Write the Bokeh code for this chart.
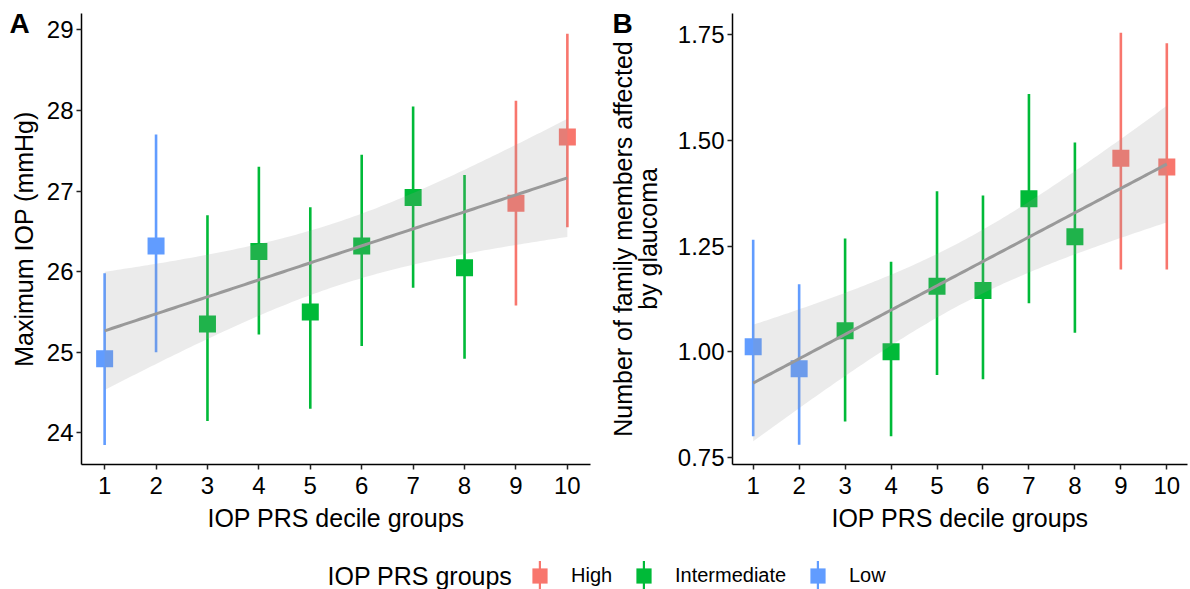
import numpy as np
from bokeh.plotting import figure
from bokeh.layouts import column, row
from bokeh.models import (Range1d, FixedTicker, PrintfTickFormatter, Label,
                          Legend, LegendItem)
from bokeh.core.properties import value
from bokeh.embed import file_html
from bokeh.resources import INLINE

# ---------------- data ----------------
deciles = [1, 2, 3, 4, 5, 6, 7, 8, 9, 10]
groups = ["Low", "Low", "Intermediate", "Intermediate", "Intermediate",
          "Intermediate", "Intermediate", "Intermediate", "High", "High"]
group_names = ["High", "Intermediate", "Low"]
group_colors = ["#F8766D", "#00BA38", "#619CFF"]

iop_mean = [24.92, 26.32, 25.35, 26.25, 25.50, 26.32, 26.92, 26.05, 26.85, 27.67]
iop_low = [23.85, 25.00, 24.15, 25.22, 24.30, 25.08, 25.80, 24.92, 25.58, 26.55]
iop_high = [25.98, 27.70, 26.70, 27.30, 26.80, 27.45, 28.05, 27.20, 28.12, 28.95]

fam_mean = [1.012, 0.960, 1.050, 1.000, 1.155, 1.145, 1.362, 1.272, 1.458, 1.437]
fam_low = [0.800, 0.780, 0.835, 0.800, 0.945, 0.935, 1.115, 1.045, 1.195, 1.195]
fam_high = [1.265, 1.160, 1.268, 1.213, 1.380, 1.370, 1.610, 1.495, 1.755, 1.730]

x_ticks = [1, 2, 3, 4, 5, 6, 7, 8, 9, 10]
iop_ticks = [24, 25, 26, 27, 28, 29]
fam_ticks = [0.75, 1.00, 1.25, 1.50, 1.75]

x_title = "IOP PRS decile groups"
ylab_a = "Maximum IOP (mmHg)"
ylab_b = ["Number of family members affected", "by glaucoma"]
legend_title = "IOP PRS groups"

FONT = "Liberation Sans"
cmap = dict(zip(group_names, group_colors))
pt_colors = [cmap[g] for g in groups]

T95 = 2.306004   # t(0.975, df=8)
T99 = 3.355387   # t(0.995, df=8)
H = 540
TOP, BOTTOM = 13, 76
FRAME_H = H - TOP - BOTTOM


def lm_band(x, y, t, n=120):
    x = np.asarray(x, float)
    y = np.asarray(y, float)
    b1, b0 = np.polyfit(x, y, 1)
    res = y - (b0 + b1 * x)
    s = np.sqrt((res ** 2).sum() / (len(x) - 2))
    xs = np.linspace(x.min(), x.max(), n)
    fit = b0 + b1 * xs
    se = s * np.sqrt(1.0 / len(x) + (xs - x.mean()) ** 2 / ((x - x.mean()) ** 2).sum())
    return xs, fit, fit - t * se, fit + t * se


def blank(width, height, **kw):
    f = figure(width=width, height=height, output_backend="svg", toolbar_location=None,
               x_range=Range1d(0, 1), y_range=Range1d(0, 1),
               x_axis_type=None, y_axis_type=None, **kw)
    f.outline_line_color = None
    f.grid.visible = False
    return f


def panel(mean, lo, hi, yr, yticks, width, left, right, t, fmt=None):
    p = figure(width=width, height=H, x_range=Range1d(0.55, 10.45),
               y_range=Range1d(*yr), output_backend="svg", toolbar_location=None,
               min_border_left=left, min_border_right=right,
               min_border_top=TOP, min_border_bottom=BOTTOM)
    p.outline_line_color = None
    p.grid.visible = False

    p.segment(x0=deciles, y0=lo, x1=deciles, y1=hi, line_color=pt_colors,
              line_width=2.6)
    p.scatter(x=deciles, y=mean, marker="square", size=17, fill_color=pt_colors,
              line_color=None)
    xs, fit, blo, bhi = lm_band(deciles, mean, t)
    p.varea(x=xs, y1=blo, y2=bhi, fill_color="#999999", fill_alpha=0.2)
    p.line(x=xs, y=fit, line_color="#999999", line_width=3)

    for ax in (p.xaxis[0], p.yaxis[0]):
        ax.axis_line_color = "black"
        ax.axis_line_width = 1.5
        ax.major_tick_line_color = "#222222"
        ax.major_tick_line_width = 1.5
        ax.major_tick_out = 5
        ax.major_tick_in = 0
        ax.minor_tick_line_color = None
        ax.major_label_text_font = FONT
        ax.major_label_text_font_size = "24px"
        ax.major_label_text_color = "black"
        ax.axis_label_text_font = FONT
        ax.axis_label_text_font_size = "25px"
        ax.axis_label_text_font_style = "normal"
        ax.axis_label_text_color = "black"
    p.xaxis.ticker = FixedTicker(ticks=x_ticks)
    p.yaxis.ticker = FixedTicker(ticks=yticks)
    p.xaxis.axis_label = x_title
    p.yaxis.major_label_standoff = 3
    p.xaxis.major_label_standoff = 7
    p.xaxis.axis_label_standoff = 7
    if fmt:
        p.yaxis.formatter = PrintfTickFormatter(format=fmt)
    return p


# side strips: their frames are aligned with the panels (top 13, bottom 464),
# so screen y below is measured from the frame bottom.
def ylabel(fig, text, x):
    fig.add_layout(Label(x=x, y=FRAME_H / 2, x_units="screen", y_units="screen",
                         text=text, angle=np.pi / 2, text_align="center",
                         text_baseline="middle", text_font=FONT,
                         text_font_size="25px", text_color="black"))


def letter(fig, text, x):
    fig.add_layout(Label(x=x, y=FRAME_H - 10, x_units="screen",
                         y_units="screen", text=text, text_font=FONT,
                         text_font_size="28px", text_font_style="bold",
                         text_color="black", text_baseline="alphabetic"))


side_kw = dict(min_border_left=0, min_border_right=0,
               min_border_top=TOP, min_border_bottom=BOTTOM)

# Panel A: side strip (letter + y title) and plot
sideA = blank(40, H, **side_kw)
letter(sideA, "A", 9)
ylabel(sideA, ylab_a, 23)
pA = panel(iop_mean, iop_low, iop_high, (23.609, 29.202), iop_ticks, 560, 41, 10, T95)

# Panel B
sideB = blank(68, H, **side_kw)
letter(sideB, "B", 12)
ylabel(sideB, ylab_b[0], 22)
ylabel(sideB, ylab_b[1], 47)
pB = panel(fam_mean, fam_low, fam_high, (0.7334, 1.8004), fam_ticks, 522, 64, 3, T99,
           fmt="%.2f")

# ---------------- legend ----------------
leg = blank(1190, 49, min_border=0)
LEG_CY = 14
key_x = [539, 643, 817]          # legend key centres (layout)
common = dict(orientation="horizontal", padding=0, margin=0,
              border_line_color=None, background_fill_alpha=0,
              label_text_font=FONT, label_text_font_size="20px",
              label_text_color="black")
for name, col, kx in zip(group_names, group_colors, key_x):
    r_line = leg.vbar(x=[np.nan], top=[np.nan], width=0.01, fill_color=col,
                      line_color=None)
    r_box = leg.vbar(x=[np.nan], top=[np.nan], width=0.01, fill_color=col,
                     line_color=None)
    leg.add_layout(Legend(items=[LegendItem(label=value(""), renderers=[r_line])],
                          glyph_width=3, glyph_height=35, label_standoff=0,
                          label_width=0, location=(kx - 1, LEG_CY - 17), **common),
                   "center")
    leg.add_layout(Legend(items=[LegendItem(label=name, renderers=[r_box])],
                          glyph_width=19, glyph_height=19, label_standoff=22,
                          location=(kx - 9, LEG_CY - 12), **common), "center")
leg.add_layout(Label(x=327, y=LEG_CY, x_units="screen", y_units="screen",
                     text=legend_title, text_font=FONT, text_font_size="25px",
                     text_color="black", text_baseline="middle"))

layout = column(row(sideA, pA, sideB, pB), leg)
open("out.html", "w").write(file_html(layout, INLINE))
